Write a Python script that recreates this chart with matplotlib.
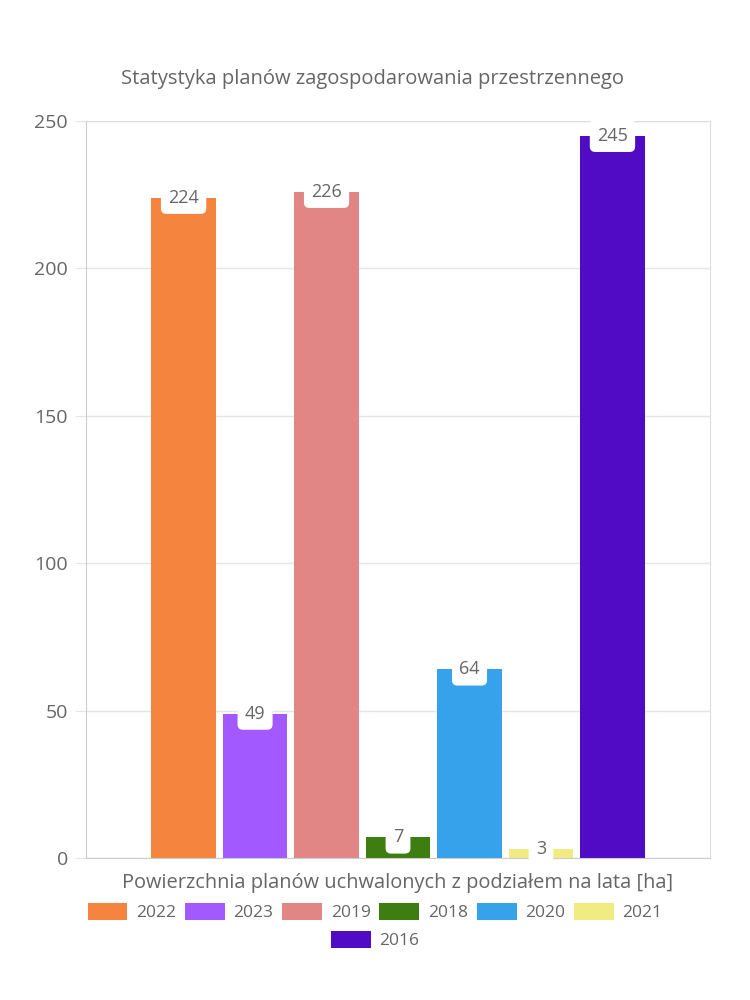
import matplotlib.pyplot as plt
from matplotlib.patches import Patch

years = ['2022', '2023', '2019', '2018', '2020', '2021', '2016']
values = [224, 49, 226, 7, 64, 3, 245]
colors = ['#F5843F', '#A259FF', '#E28585', '#3E7D10', '#36A2EB', '#F0EC82', '#510BC4']

plt.rcParams['font.family'] = ['Open Sans', 'DejaVu Sans']
txt = '#666666'
grid = '#E5E5E5'

fig = plt.figure(figsize=(7.5, 10), dpi=100)
ax = fig.add_axes([0.1147, 0.142, 0.832, 0.737])

n = len(values)
step = 0.1
width = 0.09
x0 = -step * (n - 1) / 2
for i, (y, v, c) in enumerate(zip(years, values, colors)):
    xc = x0 + i * step
    ax.bar(xc, v, width=width, color=c, zorder=2)
    ax.annotate(str(v), (xc, v), xytext=(0, 0), textcoords='offset points',
                ha='center', va='center', fontsize=13, color=txt, zorder=4,
                bbox=dict(boxstyle='round,pad=0.4,rounding_size=0.3',
                          fc='white', ec='none'))

ax.set_xlim(-0.4365, 0.4365)
ax.set_ylim(0, 250)
ax.set_yticks(range(0, 251, 50))
ax.set_xticks([])
ax.grid(axis='y', color=grid, linewidth=1, zorder=0)
for s in ax.spines.values():
    s.set_color('#DDDDDD')
ax.spines['left'].set_color('#CCCCCC')
ax.spines['bottom'].set_color('#CCCCCC')
ax.tick_params(axis='y', length=8, color=grid, labelsize=14, labelcolor=txt, pad=5)

fig.text(0.497, 0.921, 'Statystyka planów zagospodarowania przestrzennego',
         fontsize=14.5, color=txt, ha='center', va='center')
ax.set_xlabel('Powierzchnia planów uchwalonych z podziałem na lata [ha]',
              fontsize=14.4, color=txt, labelpad=11)

handles = [Patch(facecolor=c, edgecolor='none', label=y) for y, c in zip(years, colors)]
leg_kw = dict(frameon=False, fontsize=12.5, handlelength=2.3, handleheight=1.1,
              handletextpad=0.5, columnspacing=0.5, labelcolor=txt)
fig.legend(handles=handles[:6], loc='center', bbox_to_anchor=(0.5, 0.088), ncol=6, **leg_kw)
fig.legend(handles=handles[6:], loc='center', bbox_to_anchor=(0.5, 0.060), ncol=1, **leg_kw)

fig.savefig('out.png', dpi=100, facecolor='white')
